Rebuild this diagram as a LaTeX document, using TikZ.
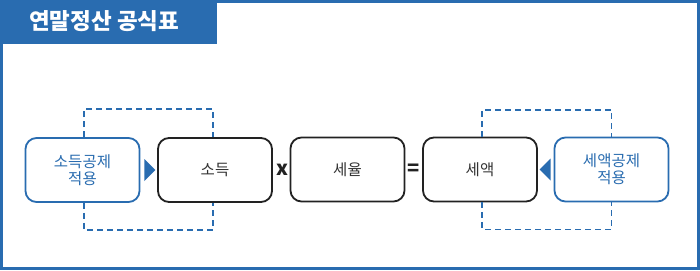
\documentclass[tikz,border=0pt]{standalone}
\usepackage{fontspec}
\setmainfont{Noto Sans CJK KR}
\definecolor{brandblue}{RGB}{41,108,176}
\definecolor{boxline}{RGB}{34,34,34}
\definecolor{boxtext}{RGB}{51,51,51}
\begin{document}
\begin{tikzpicture}[x=1pt,y=-1pt,
  stepbox/.style={draw=boxline, line width=1.8pt, rounded corners=11pt, minimum width=114pt, minimum height=64pt, inner sep=0pt, font=\fontsize{15.5}{17}\selectfont, text=boxtext, align=center},
  dedbox/.style={stepbox, draw=brandblue, text=brandblue},
  dsh/.style={draw=brandblue, line width=1.8pt, dash pattern=on 6pt off 4pt},
  opsym/.style={font=\fontsize{20}{20}\selectfont\bfseries, text=boxline, inner sep=0pt},
  tri/.style={fill=brandblue}
]
\useasboundingbox (0,0) rectangle (700,270);
\fill[white] (0,0) rectangle (700,270);
\draw[brandblue, line width=3pt] (1.5,1.5) rectangle (698.5,268.5);
\fill[brandblue] (0,0) rectangle (217,44);
\node[anchor=west, text=white, font=\fontsize{22.5}{22.5}\selectfont\bfseries, inner sep=0pt] (title) at (29,21) {연말정산 공식표};

\node[dedbox] (ded1) at (82.5,170) {소득공제\\적용};
\node[stepbox] (inc) at (215,170) {소득};
\node[stepbox] (rate) at (347.5,169.5) {세율};
\node[stepbox] (tax) at (480,169.5) {세액};
\node[dedbox] (ded2) at (611.5,169.5) {세액공제\\적용};

\draw[dsh] ([xshift=1.5pt]ded1.north) -- ++(0,-28) -| ([xshift=-2pt]inc.north);
\draw[dsh] ([xshift=1.5pt]ded1.south) -- ++(0,27) -| ([xshift=-2pt]inc.south);
\draw[dsh] ([xshift=2pt]tax.north) -- ++(0,-27) -| (ded2.north);
\draw[dsh] ([xshift=2pt]tax.south) -- ++(0,27) -| (ded2.south);

\fill[tri] ([xshift=4pt,yshift=-11pt]ded1.east) -- ([xshift=15pt]ded1.east) -- ([xshift=4pt,yshift=11pt]ded1.east) -- cycle;
\fill[tri] ([xshift=-3pt,yshift=-11pt]ded2.west) -- ([xshift=-14pt]ded2.west) -- ([xshift=-3pt,yshift=11pt]ded2.west) -- cycle;

\path (inc.east) -- node[opsym, xshift=1pt] (times) {x} (rate.west);
\path (rate.east) -- node[opsym] (equals) {=} (tax.west);
\end{tikzpicture}
\end{document}
